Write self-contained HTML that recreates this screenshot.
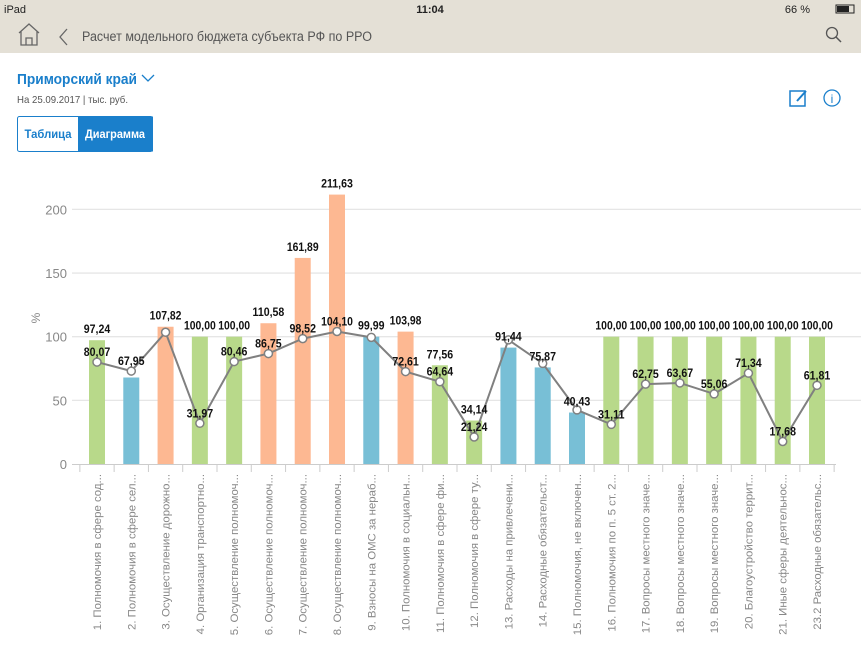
<!DOCTYPE html>
<html><head><meta charset="utf-8"><style>
body{margin:0;width:861px;height:646px;overflow:hidden;background:#fff;font-family:"Liberation Sans",sans-serif}
svg text{font-family:"Liberation Sans",sans-serif}
</style></head><body>
<svg width="861" height="646" xmlns="http://www.w3.org/2000/svg">
<rect x="0" y="0" width="861" height="53" fill="#e4e0d6"/>
<text x="4" y="13" font-size="11" fill="#222">iPad</text>
<text x="430" y="13" font-size="11" fill="#222" text-anchor="middle" font-weight="bold">11:04</text>
<text x="810" y="13" font-size="11" fill="#222" text-anchor="end">66 %</text>
<rect x="836" y="5" width="18" height="8" fill="none" stroke="#222"/><rect x="837" y="6" width="12" height="6" fill="#222"/>
<path d="M19 33 L29 24 L39 33 M21 31 V45 H37 V31 M26 45 V38 H32 V45" fill="none" stroke="#666" stroke-width="1.3"/>
<path d="M67 29 L60 37 L67 45" fill="none" stroke="#666" stroke-width="1.3"/>
<text x="82" y="41" font-size="13.5" fill="#555" textLength="290" lengthAdjust="spacingAndGlyphs">Расчет модельного бюджета субъекта РФ по РРО</text>
<circle cx="832" cy="33" r="5.5" fill="none" stroke="#555" stroke-width="1.3"/><path d="M836 37 L841 42" stroke="#555" stroke-width="1.5"/>
<text x="17" y="84" font-size="15" font-weight="bold" fill="#1a7fcb" textLength="120" lengthAdjust="spacingAndGlyphs">Приморский край</text>
<path d="M142 75 L148 81 L154 75" fill="none" stroke="#1a7fcb" stroke-width="1.3"/>
<text x="17" y="103" font-size="10.5" fill="#555" textLength="111" lengthAdjust="spacingAndGlyphs">На 25.09.2017 | тыс. руб.</text>
<rect x="790" y="91" width="15" height="15" fill="none" stroke="#1a7fcb" stroke-width="1.5"/>
<path d="M797 101 L806 91" stroke="#1a7fcb" stroke-width="2"/>
<circle cx="832" cy="98" r="8" fill="none" stroke="#1a7fcb" stroke-width="1.3"/>
<text x="832" y="103" font-size="12" fill="#1a7fcb" text-anchor="middle">i</text>
<rect x="17.5" y="116.5" width="135" height="35" rx="2" fill="#fff" stroke="#1a7fcb"/>
<rect x="78" y="116.5" width="75" height="35" fill="#1a7fcb"/>
<text x="48" y="138" font-size="12" font-weight="bold" fill="#1a7fcb" text-anchor="middle" textLength="47" lengthAdjust="spacingAndGlyphs">Таблица</text>
<text x="115" y="138" font-size="12" font-weight="bold" fill="#fff" text-anchor="middle" textLength="60" lengthAdjust="spacingAndGlyphs">Диаграмма</text>
<g id="chart"></g>
</svg>
<script>
var g=document.getElementById('chart'),ns='http://www.w3.org/2000/svg';
function el(t,a,txt){var e=document.createElementNS(ns,t);for(var k in a)e.setAttribute(k,a[k]);if(txt!=null)e.textContent=txt;g.appendChild(e);return e;}
var y0=464,k=1.273;function Y(v){return y0-v*k;}
[50,100,150,200].forEach(function(v){el('line',{x1:72,x2:861,y1:Y(v),y2:Y(v),stroke:'#e6e6e6','stroke-width':1.3});});
[0,50,100,150,200].forEach(function(v){el('text',{x:67,y:Y(v)+5,'font-size':13,fill:'#888','text-anchor':'end'},v);});
el('text',{x:40,y:318,'font-size':12,fill:'#888',transform:'rotate(-90 40 318)','text-anchor':'middle'},'%');
el('line',{x1:72,x2:836,y1:464.5,y2:464.5,stroke:'#ccc'});
var G='#b8d98a',B='#78bfd6',O='#fdb892';
var cols=[G,B,O,G,G,O,O,O,B,O,G,G,B,B,B,G,G,G,G,G,G,G];
var bars=[97.24,67.95,107.82,100,100,110.58,161.89,211.63,99.99,103.98,77.56,34.14,91.44,75.87,40.43,100,100,100,100,100,100,100];
var line=[80.07,73,103.5,31.97,80.46,86.75,98.52,104.10,99.5,72.61,64.64,21.24,97.5,79,42.5,31.11,62.75,63.67,55.06,71.34,17.68,61.81];
var blab=['97,24','','107,82','100,00','100,00','110,58','161,89','211,63','99,99','103,98','77,56','34,14','91,44','75,87','40,43','100,00','100,00','100,00','100,00','100,00','100,00','100,00'];
var llab=['80,07','67,95','','31,97','80,46','86,75','98,52','104,10','','72,61','64,64','21,24','','','','31,11','62,75','63,67','55,06','71,34','17,68','61,81'];
var names=['1. Полномочия в сфере сод...','2. Полномочия в сфере сел...','3. Осуществление дорожно...','4. Организация транспортно...','5. Осуществление полномоч...','6. Осуществление полномоч...','7. Осуществление полномоч...','8. Осуществление полномоч...','9. Взносы на ОМС за нераб...','10. Полномочия в социальн...','11. Полномочия в сфере фи...','12. Полномочия в сфере ту...','13. Расходы на привлечени...','14. Расходные обязательст...','15. Полномочия, не включен...','16. Полномочия по п. 5 ст. 2...','17. Вопросы местного значе...','18. Вопросы местного значе...','19. Вопросы местного значе...','20. Благоустройство террит...','21. Иные сферы деятельнос...','23.2 Расходные обязательс...'];
var sp=720/21,pts=[];
function lbl(x,y,s){el('text',{x:x,y:y,'font-size':12,'font-weight':'bold',fill:'#111','text-anchor':'middle',textLength:s.length*5.3,lengthAdjust:'spacingAndGlyphs'},s);}
for(var i=0;i<22;i++){var cx=97+i*sp;
el('rect',{x:cx-8,y:Y(bars[i]),width:16,height:bars[i]*k,fill:cols[i]});
el('line',{x1:cx-sp/2,x2:cx-sp/2,y1:465,y2:472,stroke:'#ccc'});
pts.push(cx+','+Y(line[i]));
el('text',{x:cx+4,y:474,'font-size':11.4,fill:'#888','text-anchor':'end',transform:'rotate(-90 '+(cx+4)+' 474)'},names[i]);}
el('line',{x1:97+21.5*sp,x2:97+21.5*sp,y1:465,y2:472,stroke:'#ccc'});
el('polyline',{points:pts.join(' '),fill:'none',stroke:'#808080','stroke-width':2});
for(var i=0;i<22;i++){var cx=97+i*sp;
el('circle',{cx:cx,cy:Y(line[i]),r:4,fill:'#fff',stroke:'#808080','stroke-width':1.5});
if(blab[i])lbl(cx,Y(bars[i])-7,blab[i]);
if(llab[i])lbl(cx,Y(line[i])-6,llab[i]);}
</script>
</body></html>
